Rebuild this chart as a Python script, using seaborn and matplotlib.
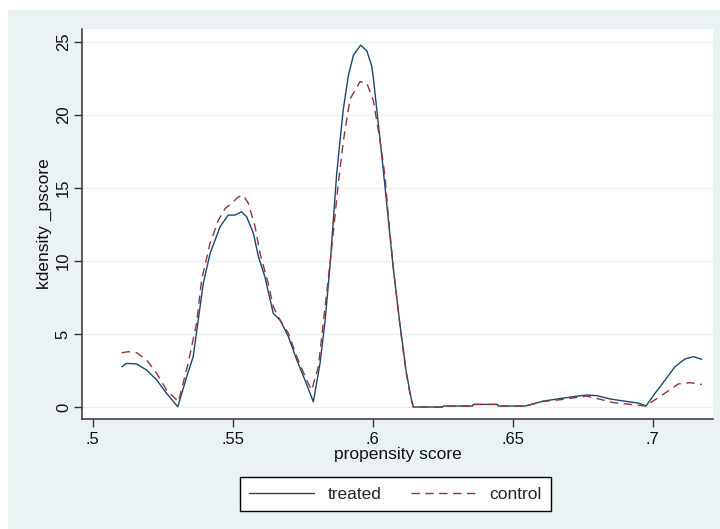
import numpy as np
import pandas as pd
import matplotlib
matplotlib.use("Agg")
import matplotlib.pyplot as plt
from matplotlib.patches import Rectangle
from matplotlib.lines import Line2D
import seaborn as sns

# Kernel density estimates of the propensity score by group
treated_x = [0.5104, 0.5121, 0.5157, 0.5193, 0.5229, 0.5264, 0.5304, 0.5336, 0.5359,
             0.5377, 0.5395, 0.5419, 0.5455, 0.5484, 0.5508, 0.5532, 0.5550, 0.5574,
             0.5592, 0.5615, 0.5645, 0.5669, 0.5699, 0.5729, 0.5758, 0.5788, 0.5812,
             0.5830, 0.5848, 0.5859, 0.5871, 0.5883, 0.5895, 0.5913, 0.5931, 0.5957,
             0.5979, 0.5996, 0.6002, 0.6020, 0.6038, 0.6056, 0.6074, 0.6097, 0.6119,
             0.6136, 0.6145, 0.6250, 0.6252, 0.6357, 0.6359, 0.6446, 0.6448, 0.6545,
             0.6608, 0.6658, 0.6716, 0.6764, 0.6800, 0.6848, 0.6907, 0.6949, 0.6976,
             0.7008, 0.7044, 0.7079, 0.7115, 0.7145, 0.7175]
treated_y = [2.76, 2.99, 2.95, 2.53, 1.85, 0.94, 0.02, 2.08, 3.45,
             5.96, 8.47, 10.5, 12.35, 13.15, 13.15, 13.38, 13.03, 11.9,
             10.3, 8.92, 6.42, 5.96, 4.82, 3.22, 1.85, 0.36, 3.0,
             5.9, 9.8, 12.7, 15.9, 18.2, 20.4, 22.7, 24.1, 24.8,
             24.4, 23.4, 22.6, 19.4, 16.2, 12.8, 9.4, 5.7, 2.5,
             0.7, 0.0, 0.0, 0.07, 0.07, 0.18, 0.18, 0.07, 0.07,
             0.4, 0.55, 0.71, 0.82, 0.78, 0.55, 0.38, 0.27, 0.08,
             0.94, 1.85, 2.76, 3.29, 3.45, 3.27]

control_x = [0.5104, 0.5127, 0.5157, 0.5193, 0.5229, 0.5264, 0.5300, 0.5306, 0.5341,
             0.5371, 0.5389, 0.5419, 0.5449, 0.5473, 0.5502, 0.5520, 0.5538, 0.5556,
             0.5580, 0.5598, 0.5627, 0.5645, 0.5669, 0.5699, 0.5729, 0.5764, 0.5782,
             0.5806, 0.5830, 0.5854, 0.5877, 0.5895, 0.5919, 0.5955, 0.5979, 0.6002,
             0.6026, 0.6044, 0.6056, 0.6074, 0.6097, 0.6119, 0.6136, 0.6145, 0.6250,
             0.6252, 0.6357, 0.6359, 0.6446, 0.6448, 0.6545, 0.6608, 0.6669, 0.6764,
             0.6812, 0.6859, 0.6920, 0.6974, 0.7016, 0.7051, 0.7091, 0.7133, 0.7175]
control_y = [3.72, 3.79, 3.72, 3.22, 2.3, 1.16, 0.48, 0.35, 3.0,
             5.73, 8.7, 11.2, 12.8, 13.6, 14.06, 14.4, 14.5, 13.95,
             12.35, 10.5, 8.47, 6.87, 5.96, 5.05, 3.45, 1.85, 1.16,
             2.76, 6.87, 10.98, 15.3, 18.2, 21.1, 22.3, 22.2, 21.0,
             18.3, 15.8, 13.0, 9.5, 5.6, 2.4, 0.6, 0.0, 0.0,
             0.07, 0.07, 0.18, 0.18, 0.07, 0.07, 0.38, 0.5, 0.75,
             0.53, 0.3, 0.18, 0.07, 0.6, 1.05, 1.58, 1.67, 1.55]

groups = ["treated", "control"]
x_ticks = [0.5, 0.55, 0.6, 0.65, 0.7]
x_tick_labels = [".5", ".55", ".6", ".65", ".7"]
y_ticks = [0, 5, 10, 15, 20, 25]

df = pd.concat([
    pd.DataFrame({"pscore": treated_x, "density": treated_y, "group": groups[0]}),
    pd.DataFrame({"pscore": control_x, "density": control_y, "group": groups[1]}),
], ignore_index=True)

sns.set_theme(style="white")
plt.rcParams["font.family"] = ["Liberation Sans", "DejaVu Sans"]

BG = "#EAF2F3"
colors = {"treated": "#1a476f", "control": "#90353b"}
dashes = {"treated": "", "control": (6, 4)}

fig = plt.figure(figsize=(7.2, 5.29), dpi=100, facecolor="white")
# graph region background, leaving a thin white margin at top and left
fig.patches.append(Rectangle((8 / 720, 0), 712 / 720, 519 / 529,
                             transform=fig.transFigure, facecolor=BG,
                             edgecolor="none", zorder=-10))

ax = fig.add_axes([82 / 720, 1 - 419 / 529, (713 - 82) / 720, (419 - 29) / 529])
ax.set_facecolor("white")

for y in y_ticks:
    ax.axhline(y, color=BG, lw=1.0, zorder=0)

sns.lineplot(data=df, x="pscore", y="density", hue="group", style="group",
             palette=colors, dashes=dashes, sort=False, estimator=None,
             linewidth=1.0, legend=False, ax=ax)

ax.set_xlim(0.4962, 0.7215)
ax.set_ylim(-0.82, 25.9)
ax.set_xticks(x_ticks)
ax.set_xticklabels(x_tick_labels)
ax.set_yticks(y_ticks)
ax.set_yticklabels([str(v) for v in y_ticks], rotation=90, va="center")

for side in ["top", "right"]:
    ax.spines[side].set_visible(False)
for side in ["left", "bottom"]:
    ax.spines[side].set_color("#333333")
    ax.spines[side].set_linewidth(1.1)

ax.tick_params(axis="both", direction="out", length=6, width=1.0, color="#333333",
               labelsize=12, labelcolor="#111111", pad=3, bottom=True, left=True)
ax.tick_params(axis="y", pad=2)

ax.set_xlabel("propensity score", fontsize=12.5, color="#111111", labelpad=0)
ax.set_ylabel("kdensity _pscore", fontsize=12.5, color="#111111", labelpad=3)

handles = [Line2D([], [], color=colors["treated"], lw=1.0),
           Line2D([], [], color=colors["control"], lw=1.0, dashes=(6, 4))]
leg = fig.legend(handles, groups, loc="center",
                 bbox_to_anchor=(395.5 / 720, 1 - 494 / 529), ncol=2,
                 fontsize=12.5, frameon=True, fancybox=False, framealpha=1,
                 edgecolor="black", facecolor="white", handlelength=3.7,
                 handletextpad=0.8, columnspacing=1.7, borderpad=0.55)
leg.get_frame().set_linewidth(1.0)

fig.savefig("out.png", dpi=100, facecolor=fig.get_facecolor())
